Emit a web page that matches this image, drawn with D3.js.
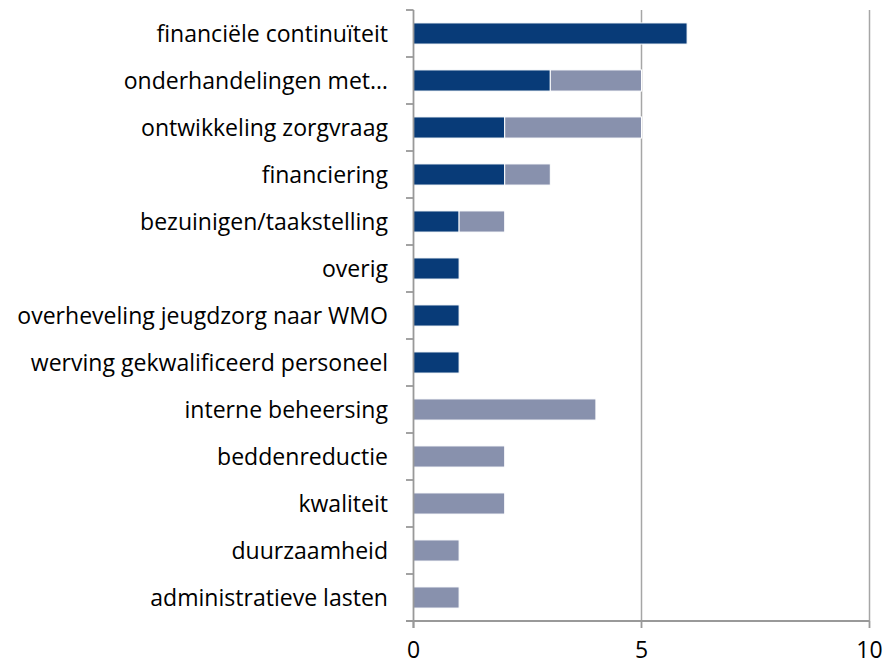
<!DOCTYPE html>
<html><head><meta charset="utf-8">
<script src="https://cdn.jsdelivr.net/npm/d3@7"></script>
<style>body{margin:0;background:#fff}svg{display:block}</style>
</head><body>
<svg id="c" width="884" height="664"></svg>
<script>
const categories = ["financiële continuïteit","onderhandelingen met…","ontwikkeling zorgvraag","financiering","bezuinigen/taakstelling","overig","overheveling jeugdzorg naar WMO","werving gekwalificeerd personeel","interne beheersing","beddenreductie","kwaliteit","duurzaamheid","administratieve lasten"];
const series1 = [6,3,2,2,1,1,1,1,0,0,0,0,0];
const series2 = [0,2,3,1,1,0,0,0,4,2,2,1,1];
const xTicks = [0,5,10];

const svg = d3.select("#c");
const x = d3.scaleLinear().domain([0,10]).range([413.5,869.5]);
const y = d3.scaleBand().domain(categories).range([10,621]).paddingInner(0.55).paddingOuter(0.275);
const colors = ["#083b78","#8891ad"];
const font = "'Open Sans', sans-serif";

// gridlines
svg.append("g").selectAll("line").data(xTicks.filter(d=>d>0)).join("line")
  .attr("x1",d=>x(d)).attr("x2",d=>x(d)).attr("y1",10).attr("y2",621)
  .attr("stroke","#a6a6a6").attr("stroke-width",1.5);

const stackData = categories.map((c,i)=>({c, a:series1[i], b:series2[i]}));
const stack = d3.stack().keys(["a","b"])(stackData);
svg.append("g").selectAll("g").data(stack).join("g").attr("fill",(d,i)=>colors[i])
  .selectAll("rect").data(d=>d.filter(p=>p[1]-p[0]>0)).join("rect")
  .attr("x",d=>x(d[0])).attr("width",d=>x(d[1])-x(d[0]))
  .attr("y",d=>y(d.data.c)).attr("height",y.bandwidth())
  .attr("stroke","#fff").attr("stroke-width",1);

// y axis
const step = y.step();
const ya = svg.append("g");
ya.append("line").attr("x1",413.5).attr("x2",413.5).attr("y1",10).attr("y2",628).attr("stroke","#999").attr("stroke-width",1.8);
ya.selectAll("line.t").data(d3.range(categories.length+1)).join("line").attr("class","t")
  .attr("x1",406).attr("x2",413.5).attr("y1",i=>10+i*step).attr("y2",i=>10+i*step)
  .attr("stroke","#999").attr("stroke-width",1.8);
const labels = ya.selectAll("text").data(categories).join("text")
  .attr("x",388).attr("y",d=>y(d)+y.bandwidth()/2).attr("dy","0.35em")
  .attr("text-anchor","end").attr("font-family",font).attr("font-size",20).attr("fill","#000").text(d=>d);
// fit font size so the longest label spans about as wide as in the reference
let maxW = 0; labels.each(function(){ maxW = Math.max(maxW, this.getComputedTextLength()); });
const fs = Math.min(26, 20*371/maxW);
labels.attr("font-size", fs);

// x axis
const xa = svg.append("g");
xa.append("line").attr("x1",406).attr("x2",869.5).attr("y1",621).attr("y2",621).attr("stroke","#999").attr("stroke-width",1.8);
xa.selectAll("line.t").data(xTicks).join("line").attr("class","t")
  .attr("x1",d=>x(d)).attr("x2",d=>x(d)).attr("y1",621).attr("y2",628).attr("stroke","#999").attr("stroke-width",1.8);
xa.selectAll("text").data(xTicks).join("text")
  .attr("x",d=>x(d)).attr("y",650).attr("dy","0.35em").attr("text-anchor","middle")
  .attr("font-family",font).attr("font-size",23).attr("fill","#000").text(d=>d);
</script>
</body></html>
